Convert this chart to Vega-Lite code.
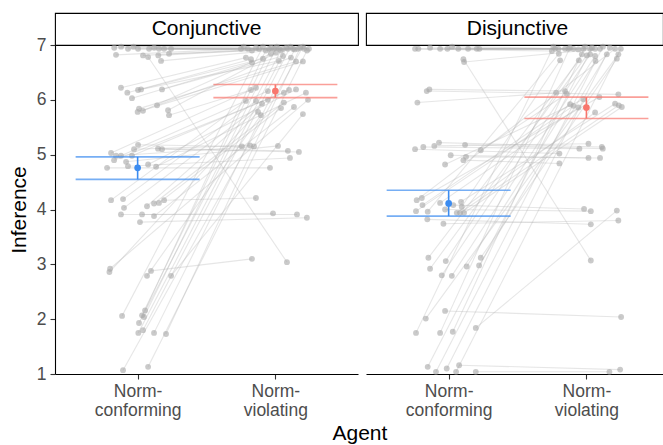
{
  "$schema": "https://vega.github.io/schema/vega-lite/v6.json",
  "background": "white",
  "padding": {"left": 8, "top": 12, "right": 0, "bottom": 0},
  "title": {"text": "Agent", "orient": "bottom", "anchor": "middle", "dx": 24, "offset": 4, "fontSize": 21, "fontWeight": "normal", "color": "black", "font": "Liberation Sans"},
  "config": {
    "font": "Liberation Sans",
    "view": {"stroke": null},
    "axis": {
      "grid": false,
      "domainColor": "black",
      "domainWidth": 1.1,
      "tickColor": "#333333",
      "tickSize": 5,
      "tickWidth": 1.1,
      "labelFontSize": 17.5,
      "labelColor": "#4d4d4d",
      "titleFontSize": 21,
      "titleFontWeight": "normal",
      "titleColor": "black"
    }
  },
  "datasets": {
    "conj": [
      {"id":1,"xc":0.843,"yc":6.82,"xv":1.750,"yv":6.93},
      {"id":2,"xc":0.930,"yc":6.93,"xv":1.801,"yv":6.93},
      {"id":3,"xc":1.003,"yc":6.93,"xv":1.881,"yv":6.93},
      {"id":4,"xc":1.039,"yc":6.81,"xv":1.953,"yv":6.93},
      {"id":5,"xc":1.076,"yc":6.78,"xv":2.084,"yv":3.04},
      {"id":6,"xc":1.083,"yc":6.93,"xv":1.990,"yv":6.93},
      {"id":7,"xc":1.155,"yc":6.93,"xv":2.026,"yv":6.93},
      {"id":8,"xc":1.150,"yc":6.81,"xv":2.055,"yv":6.93},
      {"id":9,"xc":1.170,"yc":6.71,"xv":2.091,"yv":6.93},
      {"id":10,"xc":1.192,"yc":6.93,"xv":2.128,"yv":6.93},
      {"id":11,"xc":1.228,"yc":6.84,"xv":2.164,"yv":6.93},
      {"id":12,"xc":1.243,"yc":6.93,"xv":2.208,"yv":6.93},
      {"id":13,"xc":0.830,"yc":6.95,"xv":2.244,"yv":6.93},
      {"id":14,"xc":0.970,"yc":6.97,"xv":1.770,"yv":6.97},
      {"id":15,"xc":1.120,"yc":6.95,"xv":1.830,"yv":6.90},
      {"id":16,"xc":0.880,"yc":6.97,"xv":1.860,"yv":6.95},
      {"id":17,"xc":0.879,"yc":6.22,"xv":1.786,"yv":6.77},
      {"id":18,"xc":0.925,"yc":6.13,"xv":1.823,"yv":6.74},
      {"id":19,"xc":0.959,"yc":6.03,"xv":1.830,"yv":6.68},
      {"id":20,"xc":1.003,"yc":6.18,"xv":1.910,"yv":6.75},
      {"id":21,"xc":1.025,"yc":6.19,"xv":2.026,"yv":6.71},
      {"id":22,"xc":1.177,"yc":6.19,"xv":2.055,"yv":6.80},
      {"id":23,"xc":1.141,"yc":5.90,"xv":2.113,"yv":6.77},
      {"id":24,"xc":1.010,"yc":5.84,"xv":2.150,"yv":6.70},
      {"id":25,"xc":1.000,"yc":5.78,"xv":2.200,"yv":6.70},
      {"id":26,"xc":1.039,"yc":5.80,"xv":1.968,"yv":6.84},
      {"id":27,"xc":1.221,"yc":5.81,"xv":2.004,"yv":6.86},
      {"id":28,"xc":1.228,"yc":5.72,"xv":1.823,"yv":6.18},
      {"id":29,"xc":1.003,"yc":5.18,"xv":1.757,"yv":5.15},
      {"id":30,"xc":0.974,"yc":5.10,"xv":1.816,"yv":5.17},
      {"id":31,"xc":0.807,"yc":5.03,"xv":1.859,"yv":6.22},
      {"id":32,"xc":0.843,"yc":4.98,"xv":1.845,"yv":5.15},
      {"id":33,"xc":0.879,"yc":4.98,"xv":1.946,"yv":6.16},
      {"id":34,"xc":0.829,"yc":4.90,"xv":2.062,"yv":6.13},
      {"id":35,"xc":0.916,"yc":4.87,"xv":2.019,"yv":5.16},
      {"id":36,"xc":0.959,"yc":4.98,"xv":2.099,"yv":6.18},
      {"id":37,"xc":1.148,"yc":5.11,"xv":2.091,"yv":5.07},
      {"id":38,"xc":1.177,"yc":5.10,"xv":2.171,"yv":5.05},
      {"id":39,"xc":0.778,"yc":4.76,"xv":1.961,"yv":4.76},
      {"id":40,"xc":0.930,"yc":4.79,"xv":2.106,"yv":4.94},
      {"id":41,"xc":1.076,"yc":4.82,"xv":2.150,"yv":6.19},
      {"id":42,"xc":1.134,"yc":4.78,"xv":2.222,"yv":6.13},
      {"id":43,"xc":0.807,"yc":4.17,"xv":1.786,"yv":5.98},
      {"id":44,"xc":0.894,"yc":4.19,"xv":1.859,"yv":5.98},
      {"id":45,"xc":0.901,"yc":4.03,"xv":1.903,"yv":5.93},
      {"id":46,"xc":0.879,"yc":3.91,"xv":2.157,"yv":3.91},
      {"id":47,"xc":1.032,"yc":3.91,"xv":1.983,"yv":3.93},
      {"id":48,"xc":1.017,"yc":3.77,"xv":2.229,"yv":3.85},
      {"id":49,"xc":1.068,"yc":4.06,"xv":1.946,"yv":6.00},
      {"id":50,"xc":1.119,"yc":4.11,"xv":2.062,"yv":5.95},
      {"id":51,"xc":1.155,"yc":4.12,"xv":2.041,"yv":5.85},
      {"id":52,"xc":1.192,"yc":4.17,"xv":1.859,"yv":4.21},
      {"id":53,"xc":1.119,"yc":3.88,"xv":2.135,"yv":5.87},
      {"id":54,"xc":0.800,"yc":2.92,"xv":2.237,"yv":6.00},
      {"id":55,"xc":0.795,"yc":2.86,"xv":1.874,"yv":5.78},
      {"id":56,"xc":1.097,"yc":2.88,"xv":1.830,"yv":3.10},
      {"id":57,"xc":1.068,"yc":2.79,"xv":1.895,"yv":5.72},
      {"id":58,"xc":1.243,"yc":2.79,"xv":2.200,"yv":5.74},
      {"id":59,"xc":0.887,"yc":2.06,"xv":1.910,"yv":6.97},
      {"id":60,"xc":1.054,"yc":2.16,"xv":1.930,"yv":6.90},
      {"id":61,"xc":1.032,"yc":2.07,"xv":1.970,"yv":6.95},
      {"id":62,"xc":1.046,"yc":2.04,"xv":2.010,"yv":6.97},
      {"id":63,"xc":1.010,"yc":1.93,"xv":2.040,"yv":6.90},
      {"id":64,"xc":1.005,"yc":1.75,"xv":2.080,"yv":6.95},
      {"id":65,"xc":1.039,"yc":1.80,"xv":2.110,"yv":6.97},
      {"id":66,"xc":1.119,"yc":1.75,"xv":2.140,"yv":6.92},
      {"id":67,"xc":1.206,"yc":1.73,"xv":2.180,"yv":6.95},
      {"id":68,"xc":0.894,"yc":1.07,"xv":2.200,"yv":6.97},
      {"id":69,"xc":1.076,"yc":1.13,"xv":2.230,"yv":6.90}
    ],
    "disj": [
      {"id":1,"xc":0.756,"yc":6.93,"xv":1.749,"yv":6.89},
      {"id":2,"xc":0.780,"yc":6.93,"xv":1.773,"yv":6.93},
      {"id":3,"xc":0.938,"yc":6.93,"xv":1.797,"yv":6.93},
      {"id":4,"xc":0.991,"yc":6.93,"xv":1.845,"yv":6.93},
      {"id":5,"xc":1.070,"yc":6.93,"xv":1.869,"yv":6.93},
      {"id":6,"xc":1.204,"yc":6.93,"xv":1.906,"yv":6.93},
      {"id":7,"xc":1.223,"yc":6.93,"xv":1.942,"yv":6.92},
      {"id":8,"xc":0.865,"yc":6.95,"xv":1.978,"yv":6.93},
      {"id":9,"xc":1.025,"yc":6.97,"xv":2.027,"yv":6.93},
      {"id":10,"xc":1.141,"yc":6.93,"xv":2.063,"yv":6.93},
      {"id":11,"xc":1.112,"yc":6.69,"xv":2.099,"yv":6.93},
      {"id":12,"xc":1.107,"yc":6.74,"xv":2.032,"yv":3.07},
      {"id":13,"xc":0.841,"yc":6.16,"xv":2.232,"yv":6.10},
      {"id":14,"xc":0.860,"yc":6.19,"xv":1.845,"yv":6.16},
      {"id":15,"xc":0.773,"yc":5.95,"xv":1.780,"yv":6.13},
      {"id":16,"xc":0.756,"yc":5.10,"xv":1.804,"yv":5.02},
      {"id":17,"xc":0.816,"yc":5.14,"xv":1.949,"yv":5.11},
      {"id":18,"xc":0.896,"yc":5.16,"xv":2.015,"yv":5.20},
      {"id":19,"xc":0.930,"yc":5.22,"xv":2.112,"yv":5.14},
      {"id":20,"xc":1.119,"yc":5.18,"xv":2.119,"yv":5.11},
      {"id":21,"xc":1.015,"yc":4.99,"xv":2.015,"yv":4.94},
      {"id":22,"xc":1.126,"yc":4.96,"xv":2.099,"yv":4.94},
      {"id":23,"xc":1.107,"yc":4.90,"xv":1.804,"yv":4.84},
      {"id":24,"xc":1.233,"yc":5.08,"xv":1.858,"yv":6.11},
      {"id":25,"xc":0.974,"yc":4.82,"xv":1.978,"yv":6.01},
      {"id":26,"xc":0.768,"yc":4.17,"xv":2.208,"yv":6.93},
      {"id":27,"xc":0.805,"yc":4.21,"xv":2.094,"yv":6.05},
      {"id":28,"xc":0.810,"yc":4.08,"xv":1.882,"yv":5.92},
      {"id":29,"xc":0.763,"yc":3.97,"xv":1.906,"yv":5.89},
      {"id":30,"xc":0.848,"yc":3.96,"xv":1.800,"yv":6.84},
      {"id":31,"xc":0.938,"yc":4.12,"xv":1.942,"yv":5.86},
      {"id":32,"xc":0.974,"yc":4.00,"xv":2.032,"yv":3.97},
      {"id":33,"xc":1.034,"yc":4.08,"xv":1.983,"yv":4.01},
      {"id":34,"xc":1.059,"yc":3.94,"xv":2.063,"yv":5.77},
      {"id":35,"xc":1.090,"yc":4.14,"xv":2.208,"yv":5.93},
      {"id":36,"xc":1.095,"yc":4.05,"xv":1.809,"yv":6.72},
      {"id":37,"xc":1.083,"yc":3.94,"xv":2.235,"yv":5.90},
      {"id":38,"xc":1.112,"yc":3.94,"xv":2.257,"yv":5.87},
      {"id":39,"xc":0.845,"yc":3.82,"xv":2.032,"yv":3.73},
      {"id":40,"xc":0.962,"yc":3.74,"xv":2.232,"yv":3.80},
      {"id":41,"xc":0.853,"yc":3.12,"xv":1.945,"yv":6.72},
      {"id":42,"xc":0.979,"yc":3.06,"xv":1.967,"yv":6.83},
      {"id":43,"xc":0.865,"yc":2.92,"xv":2.003,"yv":6.81},
      {"id":44,"xc":0.950,"yc":2.80,"xv":2.027,"yv":6.83},
      {"id":45,"xc":1.023,"yc":2.79,"xv":2.063,"yv":6.80},
      {"id":46,"xc":1.131,"yc":2.96,"xv":2.066,"yv":6.71},
      {"id":47,"xc":1.221,"yc":2.98,"xv":2.148,"yv":6.83},
      {"id":48,"xc":1.233,"yc":3.12,"xv":2.221,"yv":6.75},
      {"id":49,"xc":0.834,"yc":2.01,"xv":2.232,"yv":6.83},
      {"id":50,"xc":0.974,"yc":2.15,"xv":2.252,"yv":2.04},
      {"id":51,"xc":0.763,"yc":1.75,"xv":1.760,"yv":6.97},
      {"id":52,"xc":0.938,"yc":1.75,"xv":1.880,"yv":6.95},
      {"id":53,"xc":1.030,"yc":1.77,"xv":1.990,"yv":6.97},
      {"id":54,"xc":1.197,"yc":1.84,"xv":2.221,"yv":3.98},
      {"id":55,"xc":0.848,"yc":1.13,"xv":2.040,"yv":6.95},
      {"id":56,"xc":0.908,"yc":1.04,"xv":2.120,"yv":6.97},
      {"id":57,"xc":0.986,"yc":1.10,"xv":2.170,"yv":6.95},
      {"id":58,"xc":1.054,"yc":1.04,"xv":2.250,"yv":6.93},
      {"id":59,"xc":1.076,"yc":1.16,"xv":2.245,"yv":1.08},
      {"id":60,"xc":1.197,"yc":1.04,"xv":2.167,"yv":1.04}
    ],
    "conjSum": [
      {"cond":"Norm-conforming","x":1,"mean":4.76,"lo":4.55,"hi":4.96},
      {"cond":"Norm-violating","x":2,"mean":6.16,"lo":6.04,"hi":6.28}
    ],
    "disjSum": [
      {"cond":"Norm-conforming","x":1,"mean":4.11,"lo":3.88,"hi":4.35},
      {"cond":"Norm-violating","x":2,"mean":5.86,"lo":5.66,"hi":6.05}
    ]
  },
  "spacing": 6,
  "hconcat": [
    {
      "bounds": "flush",
      "spacing": 0,
      "vconcat": [
        {
          "width": 303,
          "height": 32,
          "view": {"stroke": "black", "strokeWidth": 1.1, "fill": "white"},
          "data": {"values": [{"label": "Conjunctive"}]},
          "mark": {"type": "text", "fontSize": 21, "color": "black", "baseline": "middle", "align": "center"},
          "encoding": {
            "text": {"field": "label"},
            "x": {"datum": 1.5, "type": "quantitative", "scale": {"domain": [0.4, 2.6], "nice": false, "zero": false}, "axis": null}
          }
        },
        {
          "width": 303,
          "height": 329,
          "layer": [
            {
              "data": {"name": "conj"},
              "mark": {"type": "rule", "color": "#b0b0b0", "opacity": 0.32, "strokeWidth": 1.1},
              "encoding": {
                "x": {"field": "xc", "type": "quantitative",
                  "scale": {"domain": [0.4, 2.6], "nice": false, "zero": false},
                  "axis": {"values": [1, 2], "labelExpr": "datum.value == 1 ? ['Norm-', 'conforming'] : ['Norm-', 'violating']", "labelLineHeight": 19, "labelPadding": 3, "title": null}},
                "y": {"field": "yc", "type": "quantitative",
                  "scale": {"domain": [1, 7], "nice": false, "zero": false},
                  "axis": {"values": [1, 2, 3, 4, 5, 6, 7], "format": "d", "labelPadding": 4, "title": "Inference", "titlePadding": 7}},
                "x2": {"field": "xv"},
                "y2": {"field": "yv"},
                "detail": {"field": "id"}
              }
            },
            {
              "data": {"name": "conj"},
              "mark": {"type": "circle", "color": "#a6a6a6", "opacity": 0.6, "size": 34},
              "encoding": {
                "x": {"field": "xc", "type": "quantitative"},
                "y": {"field": "yc", "type": "quantitative"}
              }
            },
            {
              "data": {"name": "conj"},
              "mark": {"type": "circle", "color": "#a6a6a6", "opacity": 0.6, "size": 34},
              "encoding": {
                "x": {"field": "xv", "type": "quantitative"},
                "y": {"field": "yv", "type": "quantitative"}
              }
            },
            {
              "data": {"name": "conjSum"},
              "mark": {"type": "tick", "orient": "horizontal", "size": 124, "thickness": 1.6},
              "encoding": {
                "x": {"field": "x", "type": "quantitative"},
                "y": {"field": "lo", "type": "quantitative"},
                "color": {"field": "cond", "type": "nominal", "scale": {"domain": ["Norm-conforming", "Norm-violating"], "range": ["#3C8CF0", "#F8766D"]}, "legend": null}
              }
            },
            {
              "data": {"name": "conjSum"},
              "mark": {"type": "tick", "orient": "horizontal", "size": 124, "thickness": 1.6},
              "encoding": {
                "x": {"field": "x", "type": "quantitative"},
                "y": {"field": "hi", "type": "quantitative"},
                "color": {"field": "cond", "type": "nominal", "legend": null}
              }
            },
            {
              "data": {"name": "conjSum"},
              "mark": {"type": "rule", "strokeWidth": 1.6},
              "encoding": {
                "x": {"field": "x", "type": "quantitative"},
                "y": {"field": "lo", "type": "quantitative"},
                "y2": {"field": "hi"},
                "color": {"field": "cond", "type": "nominal", "legend": null}
              }
            },
            {
              "data": {"name": "conjSum"},
              "mark": {"type": "circle", "size": 45, "opacity": 1},
              "encoding": {
                "x": {"field": "x", "type": "quantitative"},
                "y": {"field": "mean", "type": "quantitative"},
                "color": {"field": "cond", "type": "nominal", "legend": null}
              }
            }
          ]
        }
      ]
    },
    {
      "bounds": "flush",
      "spacing": 0,
      "vconcat": [
        {
          "width": 297,
          "height": 32,
          "view": {"stroke": "black", "strokeWidth": 1.1, "fill": "white"},
          "data": {"values": [{"label": "Disjunctive"}]},
          "mark": {"type": "text", "fontSize": 21, "color": "black", "baseline": "middle", "align": "center"},
          "encoding": {
            "text": {"field": "label"},
            "x": {"datum": 1.5, "type": "quantitative", "scale": {"domain": [0.4, 2.556], "nice": false, "zero": false}, "axis": null}
          }
        },
        {
          "width": 297,
          "height": 329,
          "layer": [
            {
              "data": {"name": "disj"},
              "mark": {"type": "rule", "color": "#b0b0b0", "opacity": 0.32, "strokeWidth": 1.1},
              "encoding": {
                "x": {"field": "xc", "type": "quantitative",
                  "scale": {"domain": [0.4, 2.556], "nice": false, "zero": false},
                  "axis": {"values": [1, 2], "labelExpr": "datum.value == 1 ? ['Norm-', 'conforming'] : ['Norm-', 'violating']", "labelLineHeight": 19, "labelPadding": 3, "title": null}},
                "y": {"field": "yc", "type": "quantitative",
                  "scale": {"domain": [1, 7], "nice": false, "zero": false},
                  "axis": null},
                "x2": {"field": "xv"},
                "y2": {"field": "yv"},
                "detail": {"field": "id"}
              }
            },
            {
              "data": {"name": "disj"},
              "mark": {"type": "circle", "color": "#a6a6a6", "opacity": 0.6, "size": 34},
              "encoding": {
                "x": {"field": "xc", "type": "quantitative"},
                "y": {"field": "yc", "type": "quantitative"}
              }
            },
            {
              "data": {"name": "disj"},
              "mark": {"type": "circle", "color": "#a6a6a6", "opacity": 0.6, "size": 34},
              "encoding": {
                "x": {"field": "xv", "type": "quantitative"},
                "y": {"field": "yv", "type": "quantitative"}
              }
            },
            {
              "data": {"name": "disjSum"},
              "mark": {"type": "tick", "orient": "horizontal", "size": 124, "thickness": 1.6},
              "encoding": {
                "x": {"field": "x", "type": "quantitative"},
                "y": {"field": "lo", "type": "quantitative"},
                "color": {"field": "cond", "type": "nominal", "scale": {"domain": ["Norm-conforming", "Norm-violating"], "range": ["#3C8CF0", "#F8766D"]}, "legend": null}
              }
            },
            {
              "data": {"name": "disjSum"},
              "mark": {"type": "tick", "orient": "horizontal", "size": 124, "thickness": 1.6},
              "encoding": {
                "x": {"field": "x", "type": "quantitative"},
                "y": {"field": "hi", "type": "quantitative"},
                "color": {"field": "cond", "type": "nominal", "legend": null}
              }
            },
            {
              "data": {"name": "disjSum"},
              "mark": {"type": "rule", "strokeWidth": 1.6},
              "encoding": {
                "x": {"field": "x", "type": "quantitative"},
                "y": {"field": "lo", "type": "quantitative"},
                "y2": {"field": "hi"},
                "color": {"field": "cond", "type": "nominal", "legend": null}
              }
            },
            {
              "data": {"name": "disjSum"},
              "mark": {"type": "circle", "size": 45, "opacity": 1},
              "encoding": {
                "x": {"field": "x", "type": "quantitative"},
                "y": {"field": "mean", "type": "quantitative"},
                "color": {"field": "cond", "type": "nominal", "legend": null}
              }
            }
          ]
        }
      ]
    }
  ]
}
